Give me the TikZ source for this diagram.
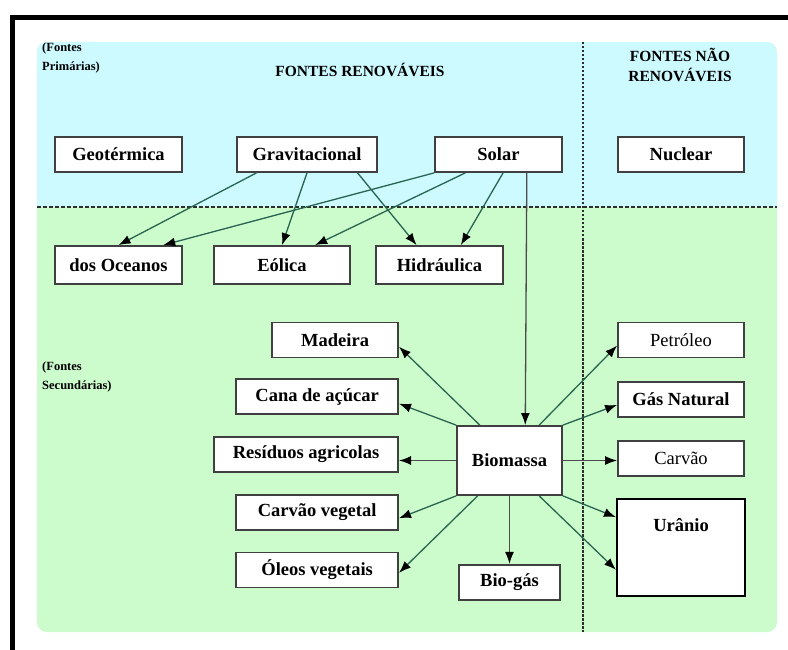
\documentclass[tikz,border=0pt]{standalone}
\usepackage{fontspec}
\setmainfont{Liberation Serif}
\usetikzlibrary{positioning, arrows.meta}

\definecolor{skyfill}{RGB}{204,250,255}
\definecolor{leaffill}{RGB}{204,252,204}
\definecolor{linkcol}{RGB}{40,100,80}
\definecolor{rulecol}{RGB}{45,45,45}

\newcommand{\boxfont}{\fontsize{18.5}{20}\selectfont\bfseries}
\newcommand{\lightboxfont}{\fontsize{18.5}{20}\selectfont}
\newcommand{\headfont}{\fontsize{15.5}{20}\selectfont\bfseries}
\newcommand{\notefont}{\fontsize{12.5}{19}\selectfont\bfseries}

\begin{document}
\begin{tikzpicture}[
    x=1pt, y=-1pt,
    box/.style={rectangle, draw=black!75, line width=1.8pt, fill=white, minimum height=35pt, inner sep=0pt, font=\boxfont},
    arrow/.style={-{Latex[length=12pt, width=9pt, color=black]}, line width=1.3pt, draw=linkcol},
    arrowdark/.style={arrow, draw=black!70}
]
    \useasboundingbox (0,0) rectangle (788,650);

    % fundo
    \fill[leaffill, rounded corners=10pt] (37,42) rectangle (777,632);
    \begin{scope}
        \clip[rounded corners=10pt] (37,42) rectangle (777,632);
        \fill[skyfill] (37,42) rectangle (777,207);
    \end{scope}
    \draw[rulecol, line width=1.6pt, dash pattern=on 4pt off 2pt] (37,207) -- (777,207);
    \draw[rulecol, line width=1.4pt, dash pattern=on 2.5pt off 1.5pt] (583,42) -- (583,632);
    \draw[line width=5pt] (12.5,650) -- (12.5,17.5) -- (788,17.5);

    % titulos
    \node[font=\headfont] (renov) at (360,70) {FONTES RENOVÁVEIS};
    \node[font=\headfont, align=center] (naorenov) at (680,65) {FONTES NÃO\\RENOVÁVEIS};
    \node[font=\notefont, align=left, anchor=north west, inner sep=0pt] (prim) at (42,43) {(Fontes\\Primárias)};
    \node[font=\notefont, align=left, anchor=north west, inner sep=0pt] (secund) at (42,362) {(Fontes\\Secundárias)};

    % fontes primarias
    \node[box, minimum width=127pt] (geo) at (118.5,154.5) {Geotérmica};
    \node[box, minimum width=140pt] (grav) at (307,154.5) {Gravitacional};
    \node[box, minimum width=127pt] (solar) at (498.5,154.5) {Solar};
    \node[box, minimum width=126pt] (nuclear) at (681,154.5) {Nuclear};

    \node[box, minimum width=127pt, minimum height=38pt] (oceanos) at (118.5,265) {dos Oceanos};
    \node[box, minimum width=136pt, minimum height=38pt] (eolica) at (282,265) {Eólica};
    \node[box, minimum width=127pt, minimum height=38pt] (hidraulica) at (439.5,265) {Hidráulica};

    % fontes secundarias
    \node[box, minimum width=105pt, minimum height=69pt] (biomassa) at (509.5,460.5) {Biomassa};
    \node[box, minimum width=101pt, below=68pt of biomassa] (biogas) {Bio-gás};

    \node[box, minimum width=126pt, anchor=east] (madeira) at (399,340) {Madeira};
    \node[box, minimum width=162pt, anchor=east] (cana) at (399,396.5) {Cana de açúcar};
    \node[box, minimum width=184pt, anchor=east] (residuos) at (399,454.5) {Resíduos agricolas};
    \node[box, minimum width=162pt, anchor=east] (carvaoveg) at (399,512.5) {Carvão vegetal};
    \node[box, minimum width=162pt, anchor=east] (oleos) at (399,570) {Óleos vegetais};

    \node[box, minimum width=126pt, font=\lightboxfont] (petroleo) at (681,340) {Petróleo};
    \node[box, minimum width=126pt, below=22.5pt of petroleo] (gas) {Gás Natural};
    \node[box, minimum width=126pt, font=\lightboxfont, below=22.5pt of gas] (carvao) {Carvão};
    \node[box, minimum width=126pt, below=22.5pt of carvao] (uraniobk) {};
    \node[box, draw=black, line width=2pt, minimum width=128pt, text height=32pt, text depth=65pt] (uranio) at (681,547.5) {Urânio};

    % ligacoes
    \draw[arrow] (grav.200) -- (oceanos.north);
    \draw[arrow] (grav.south) -- (eolica.north);
    \draw[arrow] (grav.340) -- (hidraulica.139);
    \draw[arrow] (solar.south west) -- (oceanos.24);
    \draw[arrow] (solar.209) -- (eolica.31);
    \draw[arrow] (solar.284) -- (hidraulica.43);
    \draw[arrowdark] (solar.327) -- (biomassa.66);

    \draw[arrow] (biomassa.130) -- (madeira.354);
    \draw[arrow] (biomassa.north west) -- (cana.355);
    \draw[arrowdark] (biomassa.west) -- (biomassa.west -| residuos.east);
    \draw[arrow] (biomassa.south west) -- (carvaoveg.356);
    \draw[arrow] (biomassa.228) -- (oleos.358);
    \draw[arrowdark] (biomassa.south) -- (biogas.north);

    \draw[arrow] (biomassa.50) -- (petroleo.185);
    \draw[arrow] (biomassa.north east) -- (gas.185);
    \draw[arrowdark] (biomassa.east) -- (biomassa.east -| carvao.west);
    \draw[arrow] (biomassa.south east) -- (uranio.155);
    \draw[arrow] (biomassa.310) -- (uranio.199);
\end{tikzpicture}
\end{document}
